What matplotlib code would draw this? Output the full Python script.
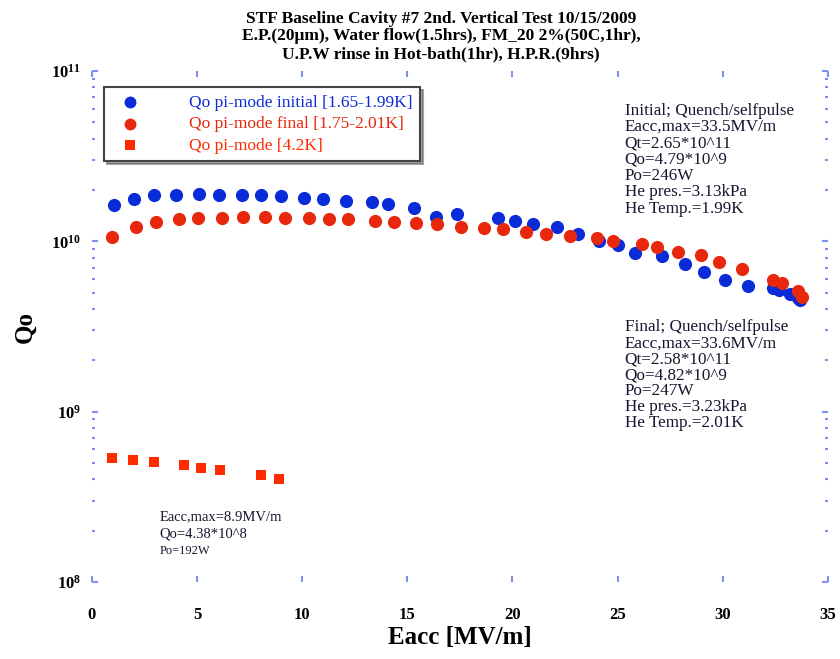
import matplotlib
matplotlib.use("Agg")
import matplotlib.pyplot as plt
from matplotlib.ticker import LogLocator, FixedLocator, NullFormatter

plt.rcParams["font.family"] = ["Liberation Serif", "DejaVu Serif"]
plt.rcParams["mathtext.fontset"] = "custom"
plt.rcParams["mathtext.rm"] = "Liberation Serif:bold"
plt.rcParams["mathtext.bf"] = "Liberation Serif:bold"

# Qo pi-mode initial [1.65-1.99K]
eacc_initial = [1.05, 2.0, 2.96, 4.0, 5.1, 6.06, 7.15, 8.06, 9.01, 10.1, 11.0, 12.1,
                13.3, 14.1, 15.3, 16.36, 17.36, 19.3, 20.1, 21.0, 22.1, 23.1, 24.1,
                25.0, 25.85, 27.1, 28.2, 29.1, 30.1, 31.2, 32.4, 32.7, 33.2, 33.6, 33.7]
qo_initial = [1.63e10, 1.77e10, 1.87e10, 1.87e10, 1.89e10, 1.87e10, 1.87e10, 1.87e10,
              1.84e10, 1.79e10, 1.77e10, 1.72e10, 1.70e10, 1.65e10, 1.56e10, 1.38e10,
              1.44e10, 1.37e10, 1.31e10, 1.26e10, 1.21e10, 1.11e10, 1.00e10, 9.5e9,
              8.5e9, 8.2e9, 7.4e9, 6.6e9, 5.9e9, 5.5e9, 5.3e9, 5.15e9, 4.88e9, 4.62e9,
              4.5e9]

# Qo pi-mode final [1.75-2.01K]
eacc_final = [0.95, 2.09, 3.04, 4.14, 5.04, 6.18, 7.18, 8.23, 9.18, 10.32, 11.27,
              12.17, 13.46, 14.36, 15.41, 16.41, 17.55, 18.64, 19.55, 20.64, 21.59,
              22.73, 24.02, 24.77, 26.15, 26.87, 27.86, 28.96, 29.81, 30.9, 32.38,
              32.8, 33.57, 33.76]
qo_final = [1.06e10, 1.21e10, 1.29e10, 1.35e10, 1.37e10, 1.37e10, 1.38e10, 1.38e10,
            1.37e10, 1.37e10, 1.35e10, 1.35e10, 1.31e10, 1.29e10, 1.28e10, 1.26e10,
            1.22e10, 1.19e10, 1.18e10, 1.13e10, 1.11e10, 1.08e10, 1.04e10, 1.00e10,
            9.6e9, 9.2e9, 8.7e9, 8.3e9, 7.6e9, 6.9e9, 5.9e9, 5.7e9, 5.1e9, 4.7e9]

# Qo pi-mode [4.2K]
eacc_42k = [0.95, 1.95, 2.95, 4.37, 5.18, 6.09, 8.04, 8.89]
qo_42k = [5.36e8, 5.22e8, 5.08e8, 4.88e8, 4.69e8, 4.56e8, 4.26e8, 4.03e8]

title_lines = [
    "STF Baseline Cavity #7 2nd. Vertical Test 10/15/2009",
    "E.P.(20\u03bcm), Water flow(1.5hrs), FM_20 2%(50C,1hr),",
    "U.P.W rinse in Hot-bath(1hr), H.P.R.(9hrs)",
]
initial_note = ["Initial; Quench/selfpulse", "Eacc,max=33.5MV/m", "Qt=2.65*10^11",
                "Qo=4.79*10^9", "Po=246W", "He pres.=3.13kPa", "He Temp.=1.99K"]
final_note = ["Final; Quench/selfpulse", "Eacc,max=33.6MV/m", "Qt=2.58*10^11",
              "Qo=4.82*10^9", "Po=247W", "He pres.=3.23kPa", "He Temp.=2.01K"]
low_note = ["Eacc,max=8.9MV/m", "Qo=4.38*10^8"]
low_note_po = "Po=192W"

blue = "#0a2bd8"
red = "#e8280c"
red_sq = "#ff2a00"
tick_col = "#7f8ff0"
note_col = "#151530"

fig = plt.figure(figsize=(8.4, 6.59), dpi=100)
ax = fig.add_axes([0.1095, 0.1168, 0.876, 0.7755])

ax.scatter(eacc_initial, qo_initial, s=90, marker="o", color=blue, linewidths=0,
           label="Qo pi-mode initial [1.65-1.99K]", zorder=3)
ax.scatter(eacc_final, qo_final, s=90, marker="o", color=red, linewidths=0,
           label="Qo pi-mode final [1.75-2.01K]", zorder=4)
ax.scatter(eacc_42k, qo_42k, s=55, marker="s", color=red_sq, linewidths=0,
           label="Qo pi-mode [4.2K]", zorder=4)

ax.set_yscale("log")
ax.set_xlim(0, 35)
ax.set_ylim(1e8, 1e11)
ax.xaxis.set_major_locator(FixedLocator([0, 5, 10, 15, 20, 25, 30, 35]))
ax.yaxis.set_major_locator(LogLocator(base=10, numticks=10))
ax.yaxis.set_minor_locator(LogLocator(base=10, subs=(2, 3, 4, 5, 6, 7, 8, 9), numticks=10))
ax.yaxis.set_minor_formatter(NullFormatter())

for sp in ax.spines.values():
    sp.set_visible(False)
ax.tick_params(which="both", direction="in", color=tick_col, top=True, right=True,
               width=1.5)
ax.tick_params(which="major", length=4, labelsize=12)
ax.tick_params(axis="x", which="major", pad=18)
ax.tick_params(axis="y", which="major", pad=8)
ax.tick_params(which="minor", length=2)
for lab in ax.get_xticklabels() + ax.get_yticklabels():
    lab.set_fontweight("bold")

ax.set_xlabel("Eacc [MV/m]", fontsize=18, fontweight="bold", labelpad=2)
ax.set_ylabel("Qo", fontsize=18, fontweight="bold", labelpad=10)

fig.text(0.525, 0.984, "\n".join(title_lines), ha="center", va="top",
         fontsize=12.5, fontweight="bold", linespacing=1.15)

leg = ax.legend(loc="upper left", bbox_to_anchor=(0.017, 0.969), fontsize=12.5,
                frameon=True, fancybox=False, shadow=True, borderpad=0.45,
                handletextpad=2.4, labelspacing=0.3, borderaxespad=0,
                markerscale=0.9)
leg.get_frame().set_edgecolor("#444444")
leg.get_frame().set_linewidth(1.5)
for txt, col in zip(leg.get_texts(), [blue, red, red_sq]):
    txt.set_color(col)

ax.text(0.724, 0.938, "\n".join(initial_note), transform=ax.transAxes, ha="left",
        va="top", fontsize=12.3, color=note_col, linespacing=1.03)
ax.text(0.724, 0.514, "\n".join(final_note), transform=ax.transAxes, ha="left",
        va="top", fontsize=12.3, color=note_col, linespacing=1.0)
ax.text(0.092, 0.140, "\n".join(low_note), transform=ax.transAxes, ha="left",
        va="top", fontsize=10.5, color=note_col, linespacing=1.4)
ax.text(0.092, 0.073, low_note_po, transform=ax.transAxes, ha="left",
        va="top", fontsize=9, color=note_col)

fig.savefig("out.png", dpi=100)
